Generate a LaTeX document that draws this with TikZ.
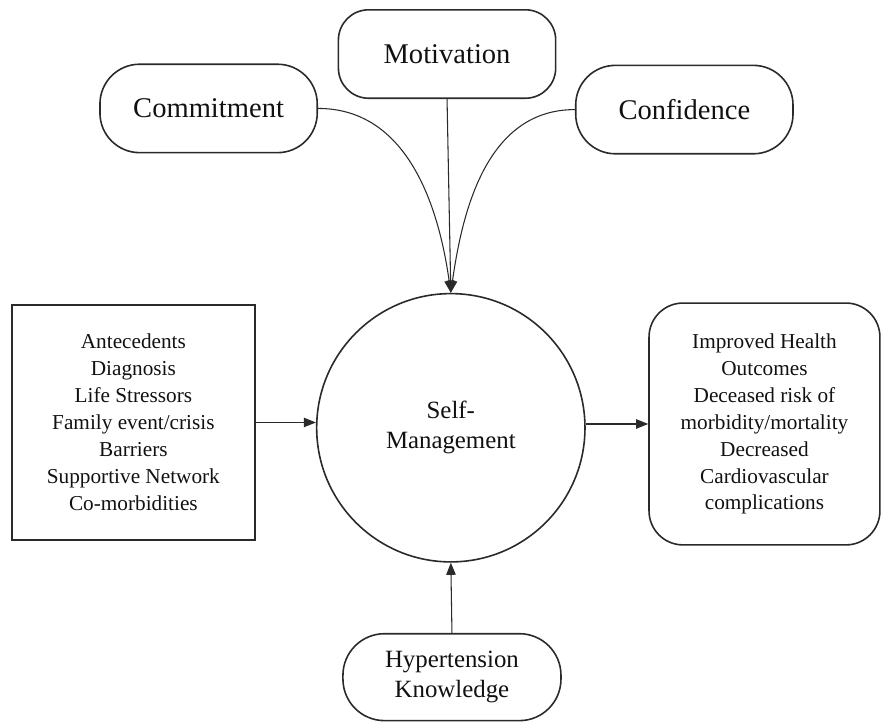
\documentclass[tikz,border=0pt]{standalone}
\usepackage{fontspec}
\setmainfont{Liberation Serif}
\usepackage{xcolor}
\usetikzlibrary{arrows.meta}
\definecolor{ink}{HTML}{111111}
\definecolor{edge}{HTML}{2A2A2A}
\tikzset{
  pill/.style={draw=edge, line width=1.2pt, rounded corners=1.05cm, align=center,
    minimum width=5.75cm, minimum height=2.34cm, text=ink, inner sep=0pt},
  box/.style={draw=edge, line width=1.2pt, align=center, text=ink, inner sep=0pt},
  hub/.style={draw=edge, line width=1.2pt, circle, minimum size=7.1cm, align=center, text=ink},
  link/.style={draw=edge, line width=0.8pt, -{Triangle[length=3.2mm, width=2.5mm]}},
  big/.style={font=\fontsize{21.5}{26}\selectfont},
  mid/.style={font=\fontsize{18.7}{22.5}\selectfont},
  small/.style={font=\fontsize{16}{20.3}\selectfont},
}

\begin{document}
\begin{tikzpicture}
  \useasboundingbox (0,0) rectangle (23.34,19.18);

  % centre of the model
  \node[hub,mid] (sm) at (11.93,7.86) {Self-\\Management};

  % the three drivers on top
  \node[pill,big,rounded corners=0.8cm] (mot) at (11.83,17.75) {Motivation};
  \node[pill,big] (com) at (5.52,16.31) {Commitment};
  \node[pill,big] (con) at (18.11,16.28) {Confidence};

  % inputs and outputs
  \node[box,small,minimum width=6.43cm,minimum height=6.22cm] (ante) at (3.53,8.00)
    {Antecedents\\Diagnosis\\Life Stressors\\Family event/crisis\\Barriers\\Supportive Network\\Co-morbidities};
  \node[box,small,rounded corners=0.9cm,minimum width=6.11cm,minimum height=6.40cm] (out) at (20.23,7.96)
    {Improved Health\\Outcomes\\Deceased risk of\\morbidity/mortality\\Decreased\\Cardiovascular\\complications};
  \node[pill,mid,minimum width=5.77cm,minimum height=2.30cm,rounded corners=1.1cm] (know) at (11.96,1.26)
    {Hypertension\\Knowledge};

  % connectors
  \draw[link] (mot.south) -- (sm.north);
  \draw[link] (com.east) to[out=0,in=98] (sm.north);
  \draw[link] (con.west) to[out=180,in=82] (sm.north);
  \draw[link] (ante.east) -- (ante.east -| sm.west);
  \draw[link] (sm.east |- out.west) -- (out.west);
  \draw[link] (know.north) -- (sm.south);
\end{tikzpicture}
\end{document}
